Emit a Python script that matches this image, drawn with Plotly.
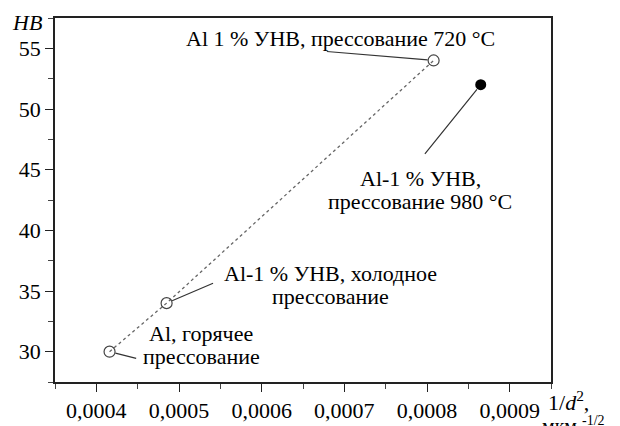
import plotly.graph_objects as go

# Data
series_x = [0.000416, 0.000485, 0.000808]
series_y = [30, 34, 54]
hot_x = [0.000865]
hot_y = [52]

labels = [
    ["Al, горячее", "прессование"],
    ["Al-1 % УНВ, холодное", "прессование"],
    ["Al 1 % УНВ, прессование 720 °C"],
    ["Al-1 % УНВ,", "прессование 980 °C"],
]
label_pos = [(0.000527, 30.58), (0.000683, 35.49), (0.000695, 55.82), (0.000792, 43.33)]
point_pos = [(0.000416, 30), (0.000485, 34), (0.000808, 54), (0.000865, 52)]
leader_start = [(0.00045, 29.42), (0.000543, 35.69), (0.000677, 54.75), (0.000796, 46.17)]

x_ticks = [0.0004, 0.0005, 0.0006, 0.0007, 0.0008, 0.0009]
y_ticks = [30, 35, 40, 45, 50, 55]

FONT = "Times New Roman"
FS = 22
LINE_GAP = 23

fig = go.Figure()
fig.add_trace(go.Scatter(
    x=series_x, y=series_y, mode="lines+markers",
    line=dict(color="#666666", width=1.3, dash="dot"),
    marker=dict(symbol="circle-open", size=11, color="#444444", line=dict(width=1.2)),
    showlegend=False,
))
fig.add_trace(go.Scatter(
    x=hot_x, y=hot_y, mode="markers",
    marker=dict(symbol="circle", size=11, color="black"),
    showlegend=False,
))

for (lx, ly), lines in zip(label_pos, labels):
    n = len(lines)
    for i, txt in enumerate(lines):
        shift = ((n - 1) / 2 - i) * LINE_GAP
        fig.add_annotation(x=lx, y=ly, xref="x", yref="y", text=txt, showarrow=False,
                           yshift=shift, borderpad=0,
                           font=dict(family=FONT, size=FS, color="black"), align="center")
for (px, py), (sx, sy) in zip(point_pos, leader_start):
    fig.add_annotation(x=px, y=py, xref="x", yref="y", ax=sx, ay=sy, axref="x", ayref="y",
                       text="", showarrow=True, arrowhead=0, arrowwidth=1.2,
                       arrowcolor="#333333", standoff=6, startstandoff=0)
fig.add_annotation(x=0, y=1.0, xref="paper", yref="paper", xanchor="right", yanchor="middle",
                   xshift=-11, yshift=-4, text="<i>HB</i>", showarrow=False,
                   font=dict(family=FONT, size=FS, color="black"))
fig.add_annotation(x=1.0, y=0, xref="paper", yref="paper", xanchor="left", yanchor="middle",
                   xshift=-4, yshift=-19, text="1/<i>d</i><sup>2</sup>,", showarrow=False,
                   borderpad=0, font=dict(family=FONT, size=FS, color="black"))
fig.add_annotation(x=1.0, y=0, xref="paper", yref="paper", xanchor="left", yanchor="middle",
                   xshift=-10, yshift=-43, text="мкм <sup>-1/2</sup>", showarrow=False,
                   borderpad=0, font=dict(family=FONT, size=FS - 2, color="black"))

fig.update_layout(
    width=620, height=426,
    margin=dict(l=47, r=77, t=10, b=52, autoexpand=False),
    paper_bgcolor="white", plot_bgcolor="white",
    separators=",.",
    font=dict(family=FONT, size=FS, color="black"),
    xaxis=dict(range=[0.00035, 0.00095], tickvals=x_ticks, tickformat=".4f",
               automargin=False,
               ticks="outside", ticklen=8, tickwidth=1.3, tickcolor="#222",
               showline=True, linecolor="#222", linewidth=1.5, mirror=True,
               showgrid=False, zeroline=False,
               minor=dict(ticks="outside", dtick=0.00005, tick0=0.00035, ticklen=5,
                          tickcolor="#444", tickwidth=1)),
    yaxis=dict(range=[27.5, 57.5], tickvals=y_ticks,
               automargin=False,
               ticks="outside", ticklen=8, tickwidth=1.3, tickcolor="#222",
               showline=True, linecolor="#222", linewidth=1.5, mirror=True,
               showgrid=False, zeroline=False,
               minor=dict(ticks="outside", dtick=2.5, tick0=27.5, ticklen=5,
                          tickcolor="#444", tickwidth=1)),
)

fig.write_html("out.html")
